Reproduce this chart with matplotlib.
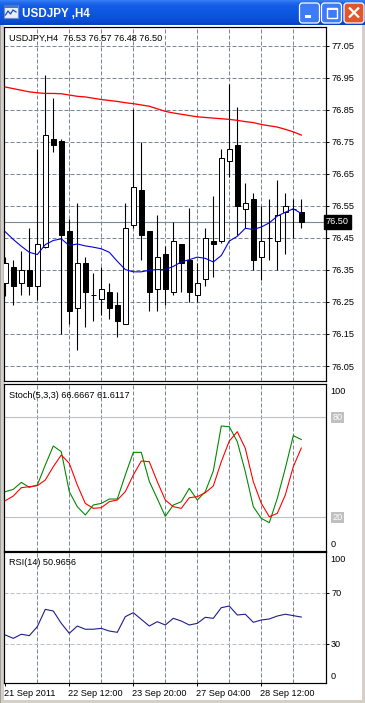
import matplotlib
matplotlib.use('Agg')
import matplotlib.pyplot as plt
import numpy as np
from matplotlib.patches import Rectangle, FancyBboxPatch
import matplotlib.transforms as mtransforms

plt.rcParams['font.family'] = ['Liberation Sans', 'DejaVu Sans']
plt.rcParams['lines.scale_dashes'] = False

# ---------------- data ----------------
opens = [76.309, 76.359, 76.309, 76.351, 76.299, 76.421, 76.760, 76.751, 76.470, 76.231,
         76.372, 76.272, 76.259, 76.281, 76.242, 76.181, 76.491, 76.601, 76.470, 76.291,
         76.401, 76.281, 76.432, 76.380, 76.272, 76.322, 76.441, 76.441, 76.690, 76.741,
         76.541, 76.570, 76.391, 76.450, 76.441, 76.530, 76.540, 76.53]
highs = [76.391, 76.382, 76.410, 76.481, 76.729, 76.960, 76.888, 76.760, 76.509, 76.558,
         76.391, 76.341, 76.359, 76.309, 76.281, 76.559, 76.851, 76.750, 76.470, 76.520,
         76.424, 76.501, 76.432, 76.542, 76.372, 76.481, 76.582, 76.729, 76.931, 76.859,
         76.620, 76.591, 76.550, 76.570, 76.632, 76.591, 76.570, 76.57]
lows = [76.270, 76.239, 76.272, 76.272, 76.257, 76.418, 76.718, 76.150, 76.180, 76.100,
        76.171, 76.190, 76.210, 76.197, 76.140, 76.181, 76.481, 76.380, 76.221, 76.221,
        76.239, 76.272, 76.281, 76.250, 76.250, 76.299, 76.328, 76.435, 76.640, 76.460,
        76.481, 76.349, 76.320, 76.380, 76.349, 76.400, 76.450, 76.48]
closes = [76.371, 76.299, 76.351, 76.299, 76.431, 76.770, 76.740, 76.458, 76.221, 76.372,
          76.281, 76.272, 76.291, 76.231, 76.190, 76.481, 76.609, 76.458, 76.281, 76.391,
          76.291, 76.441, 76.372, 76.281, 76.309, 76.450, 76.430, 76.700, 76.729, 76.549,
          76.559, 76.380, 76.441, 76.450, 76.520, 76.550, 76.540, 76.50]
ma_slow = [76.921, 76.916, 76.911, 76.906, 76.903, 76.901, 76.901, 76.900, 76.896, 76.892,
           76.890, 76.886, 76.882, 76.879, 76.876, 76.872, 76.869, 76.865, 76.861, 76.853,
           76.845, 76.840, 76.836, 76.832, 76.828, 76.826, 76.824, 76.822, 76.820, 76.817,
           76.813, 76.810, 76.804, 76.800, 76.796, 76.789, 76.781, 76.771]
ma_fast = [76.469, 76.445, 76.424, 76.405, 76.398, 76.429, 76.442, 76.447, 76.426, 76.431,
           76.425, 76.421, 76.416, 76.405, 76.377, 76.351, 76.344, 76.344, 76.349, 76.351,
           76.351, 76.361, 76.375, 76.382, 76.390, 76.386, 76.375, 76.395, 76.440, 76.455,
           76.480, 76.476, 76.484, 76.497, 76.518, 76.530, 76.541, 76.526]
stoch_main = [35.4, 36.8, 41.0, 38.0, 39.4, 51.4, 62.8, 59.4, 35.4, 26.4,
              21.4, 27.4, 28.4, 31.0, 31.0, 45.4, 59.0, 59.0, 41.6, 31.2,
              20.6, 27.4, 29.4, 37.4, 30.4, 35.4, 47.8, 74.8, 74.4, 65.4,
              47.4, 26.4, 19.4, 16.8, 31.4, 49.4, 69.0, 66.7]
stoch_signal = [30.0, 32.8, 37.8, 38.4, 39.0, 42.4, 50.4, 57.4, 52.4, 39.4,
                28.4, 25.4, 25.8, 29.4, 30.4, 35.4, 45.4, 53.8, 53.4, 41.4,
                30.4, 26.4, 25.4, 31.8, 32.4, 34.8, 38.8, 53.4, 65.8, 71.4,
                61.4, 41.4, 28.4, 20.4, 22.4, 33.4, 50.4, 61.6]
rsi = [37.0, 34.4, 37.6, 36.5, 43.5, 57.0, 55.7, 46.1, 38.3, 44.0,
       41.5, 41.5, 42.2, 40.1, 39.1, 51.3, 54.4, 49.2, 44.0, 47.4,
       44.8, 50.0, 47.9, 44.8, 46.1, 50.8, 50.0, 58.3, 59.6, 52.6,
       53.2, 46.9, 48.7, 49.5, 51.8, 53.2, 52.1, 51.0]
price_ticks = [76.05, 76.15, 76.25, 76.35, 76.45, 76.55, 76.65, 76.75, 76.85, 76.95, 77.05]
current_price = 76.50
time_labels = ['21 Sep 2011', '22 Sep 12:00', '23 Sep 20:00', '27 Sep 04:00', '28 Sep 12:00']
time_label_bars = [0, 8, 16, 24, 32]
grid_bars = [4, 8, 12, 16, 20, 24, 28, 32, 36]
header_main = 'USDJPY,H4  76.53 76.57 76.48 76.50'
header_stoch = 'Stoch(5,3,3) 66.6667 61.6117'
header_rsi = 'RSI(14) 50.9656'
window_title = 'USDJPY ,H4'

# ---------------- figure ----------------
W, H = 365, 703
DPI = 100
fig = plt.figure(figsize=(W / DPI, H / DPI), dpi=DPI)
fig.patch.set_facecolor('white')

PX = 72.0 / DPI          # points per pixel
FS = 6.6
GRID_C = '#778899'
DASH = (0, (4 * PX, 2 * PX))


def px_axes(x0, y0, x1, y1, z=1):
    return fig.add_axes([x0 / W, 1 - y1 / H, (x1 - x0) / W, (y1 - y0) / H], zorder=z)


# background / window decoration axes
bg = fig.add_axes([0, 0, 1, 1], zorder=0)
bg.set_xlim(0, W)
bg.set_ylim(H, 0)
bg.axis('off')

# title bar gradient
stops_y = [0, 1, 3, 6, 14, 21, 24, 25]
stops_c = ['#3A82F5', '#2E78F2', '#1F68EC', '#135DE6', '#0C56E0', '#0A4DD4', '#0843BC', '#0843BC']
rows = np.arange(25) + 0.5
def hex2rgb(h):
    return [int(h[i:i + 2], 16) / 255 for i in (1, 3, 5)]
cs = np.array([hex2rgb(c) for c in stops_c])
grad = np.stack([np.interp(rows, stops_y, cs[:, i]) for i in range(3)], axis=-1)[:, None, :]
bg.imshow(grad, extent=[0, W, 25, 0], aspect='auto', interpolation='nearest', zorder=1)

# window side frames
bg.add_patch(Rectangle((0, 25), 4, H - 25, facecolor='#D4D0C8', edgecolor='none', zorder=1))
bg.add_patch(Rectangle((0, 25), 1, H - 25, facecolor='#A0A0A0', edgecolor='none', zorder=2))
bg.add_patch(Rectangle((362, 25), 3, H - 25, facecolor='#D4D0C8', edgecolor='none', zorder=1))
bg.add_patch(Rectangle((0, 700), W, 3, facecolor='#D4D0C8', edgecolor='none', zorder=1))

# icon
bg.add_patch(Rectangle((3.5, 4.5), 14, 13, facecolor='#E8EEF8', edgecolor='#6A8CC8', lw=0.8, zorder=3))
bg.add_patch(Rectangle((3.5, 4.5), 14, 3, facecolor='#4A78C8', edgecolor='none', zorder=3))
bg.plot([5.5, 8, 10.5, 13, 16], [15, 11, 14, 10, 12], color='#2050B0', lw=0.9, zorder=4)

bg.text(22, 16.7, window_title, color='white', fontsize=8.4, fontweight='bold',
        ha='left', va='baseline', zorder=5)

# buttons
def button(x0, face):
    p = FancyBboxPatch((x0 + 0.5, 3), 20, 20, boxstyle='round,pad=0,rounding_size=3',
                       facecolor=face, edgecolor='white', lw=0.9, zorder=3)
    bg.add_patch(p)

button(299, '#3C7CF4')
button(321, '#3C7CF4')
button(343.5, '#E2562C')
bg.add_patch(Rectangle((305, 14.5), 6, 3, facecolor='white', edgecolor='none', zorder=4))
bg.add_patch(Rectangle((326.5, 7.5), 10, 10, facecolor='none', edgecolor='white', lw=1.0, zorder=4))
bg.add_patch(Rectangle((326.5, 7.5), 10, 2, facecolor='white', edgecolor='none', zorder=4))
bg.plot([349, 359], [7.5, 17.5], color='white', lw=1.6, zorder=4, solid_capstyle='butt')
bg.plot([349, 359], [17.5, 7.5], color='white', lw=1.6, zorder=4, solid_capstyle='butt')

# ---------------- panels ----------------
x = np.arange(len(opens))
XL = ((4 - 5.3) / 8, (326 - 5.3) / 8)


def style_panel(ax):
    ax.set_facecolor('white')
    ax.set_xlim(*XL)
    for s in ax.spines.values():
        s.set_linewidth(1.0 * PX * 1.2)
        s.set_color('black')
    ax.set_xticks([])
    ax.yaxis.set_ticks_position('right')
    ax.tick_params(axis='y', direction='out', length=3 * PX * 1.0, width=PX,
                   pad=1.5, labelsize=FS, colors='black')
    for gb in grid_bars:
        ax.axvline(gb, color=GRID_C, lw=PX, linestyle=DASH, zorder=1)


# main price panel
axm = px_axes(4, 27, 326, 381, z=2)
style_panel(axm)
axm.set_ylim(76.0032, 77.1084)
axm.set_yticks(price_ticks)
axm.set_yticklabels(['%.2f' % t for t in price_ticks])
for t in price_ticks:
    axm.axhline(t, color=GRID_C, lw=PX, linestyle=DASH, zorder=1)
axm.axhline(current_price, color='#778899', lw=1.1 * PX, zorder=1.5)

opens_a = np.array(opens)
closes_a = np.array(closes)
axm.vlines(x, lows, highs, color='black', lw=1.1 * PX, zorder=3)
up = closes_a >= opens_a
body_h = closes_a - opens_a
axm.bar(x[up], body_h[up], bottom=opens_a[up], width=0.56, facecolor='white',
        edgecolor='black', lw=1.0 * PX, zorder=4)
axm.bar(x[~up], body_h[~up], bottom=opens_a[~up], width=0.56, facecolor='black',
        edgecolor='black', lw=1.0 * PX, zorder=4)
axm.plot(x, ma_slow, color='#FF0000', lw=1.3 * PX, zorder=5)
axm.plot(x, ma_fast, color='#0000DD', lw=1.1 * PX, zorder=5)
axm.text(0.0145, 40.5, header_main, transform=mtransforms.blended_transform_factory(axm.transAxes, bg.transData),
         fontsize=FS, ha='left', va='baseline', zorder=6)
# current price label
axm.text(1.0, current_price, '76.50', transform=mtransforms.blended_transform_factory(axm.transAxes, axm.transData),
         fontsize=FS, color='white', ha='left', va='center', zorder=7, clip_on=False,
         bbox=dict(boxstyle='square,pad=0.25', facecolor='black', edgecolor='black'))

# stochastic panel
axs = px_axes(4, 384, 326, 550.7, z=2)
style_panel(axs)
axs.set_ylim(0, 100)
axs.set_yticks([])
axs.axhline(80, color='#C0C0C0', lw=PX * 1.1, zorder=1.5)
axs.axhline(20, color='#C0C0C0', lw=PX * 1.1, zorder=1.5)
axs.plot(x, stoch_main, color='#008800', lw=1.1 * PX, zorder=4)
axs.plot(x, stoch_signal, color='#FF0000', lw=1.1 * PX, zorder=4)
trs = mtransforms.blended_transform_factory(axs.transAxes, axs.transData)
axs.text(1.015, 95.8, '100', transform=trs, fontsize=FS, ha='left', va='center', clip_on=False)
axs.text(1.015, 4.0, '0', transform=trs, fontsize=FS, ha='left', va='center', clip_on=False)
for lv in (80, 20):
    axs.text(1.02, lv, str(lv), transform=trs, fontsize=FS, color='white', ha='left', va='center',
             clip_on=False, bbox=dict(boxstyle='square,pad=0.12', facecolor='#C0C0C0', edgecolor='none'))
axs.text(0.0145, 397.7, header_stoch, transform=mtransforms.blended_transform_factory(axs.transAxes, bg.transData),
         fontsize=FS, ha='left', va='baseline', zorder=6)

# RSI panel
axr = px_axes(4, 552, 326, 683, z=2)
style_panel(axr)
axr.set_ylim(-0.4, 101.7)
axr.set_yticks([70, 30])
axr.set_yticklabels(['70', '30'])
axr.axhline(70, color='#C0C0C0', lw=PX, linestyle=DASH, zorder=1)
axr.axhline(30, color='#C0C0C0', lw=PX, linestyle=DASH, zorder=1)
axr.plot(x, rsi, color='#1C1C8C', lw=1.1 * PX, zorder=4)
trr = mtransforms.blended_transform_factory(axr.transAxes, axr.transData)
axr.text(1.015, 95.5, '100', transform=trr, fontsize=FS, ha='left', va='center', clip_on=False)
axr.text(1.015, 4.3, '0', transform=trr, fontsize=FS, ha='left', va='center', clip_on=False)
axr.text(0.0145, 565, header_rsi, transform=mtransforms.blended_transform_factory(axr.transAxes, bg.transData),
         fontsize=FS, ha='left', va='baseline', zorder=6)

# time axis
axr.set_xticks(time_label_bars)
axr.set_xticklabels([''] * len(time_label_bars))
axr.tick_params(axis='x', direction='out', length=3 * PX, width=PX, colors='black')
trt = mtransforms.blended_transform_factory(axr.transData, bg.transData)
for b, lab in zip(time_label_bars, time_labels):
    axr.text(b - 0.1, 695.7, lab, transform=trt, fontsize=FS, ha='left', va='baseline', clip_on=False)

fig.savefig('out.png', dpi=DPI, facecolor=fig.get_facecolor())
